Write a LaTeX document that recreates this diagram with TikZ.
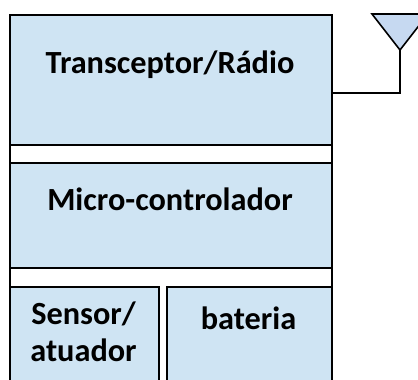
\documentclass[tikz,border=0pt]{standalone}
\usepackage{fontspec}
\setmainfont{Carlito}
\definecolor{boxblue}{RGB}{207,228,243}
\definecolor{antblue}{RGB}{198,217,241}
\begin{document}
\begin{tikzpicture}[x=1pt,y=-1pt,
  blk/.style={draw=black,line width=2pt,fill=boxblue,inner sep=0pt,anchor=north west},
  lbl/.style={font=\fontsize{32.3}{36.5}\selectfont\bfseries,inner sep=0pt,anchor=base,align=center},
  wire/.style={draw=black,line width=1.6pt}]
\useasboundingbox (0,0) rectangle (418,380);
\clip (0,0) rectangle (418,380);
\node[draw=black,line width=2pt,fill=white,inner sep=0pt,anchor=north west,minimum width=322pt,minimum height=385pt] (frame) at (9,14) {};
\node[blk,minimum width=322pt,minimum height=130pt] (radio) at (9,14) {};
\node[blk,minimum width=322pt,minimum height=105pt] (mcu) at (9,162) {};
\node[blk,minimum width=149pt,minimum height=110pt] (sens) at (9,286) {};
\node[blk,minimum width=165pt,minimum height=110pt] (bat) at (166,286) {};
\node[lbl] (tradio) at (170,73) {Transceptor/Rádio};
\node[lbl] (tmcu) at (170,210) {Micro-controlador};
\node[lbl,anchor=north] (tsens) at (83.5,302) {Sensor/\\atuador};
\node[lbl] (tbat) at (248.5,329) {bateria};
\draw[line width=1.6pt,fill=antblue] (372,14) -- (428,14) -- (400,50) -- cycle;
\coordinate (apex) at (400,50);
\coordinate (rj) at (331,93);
\draw[wire] (apex) |- (rj);
\end{tikzpicture}
\end{document}
